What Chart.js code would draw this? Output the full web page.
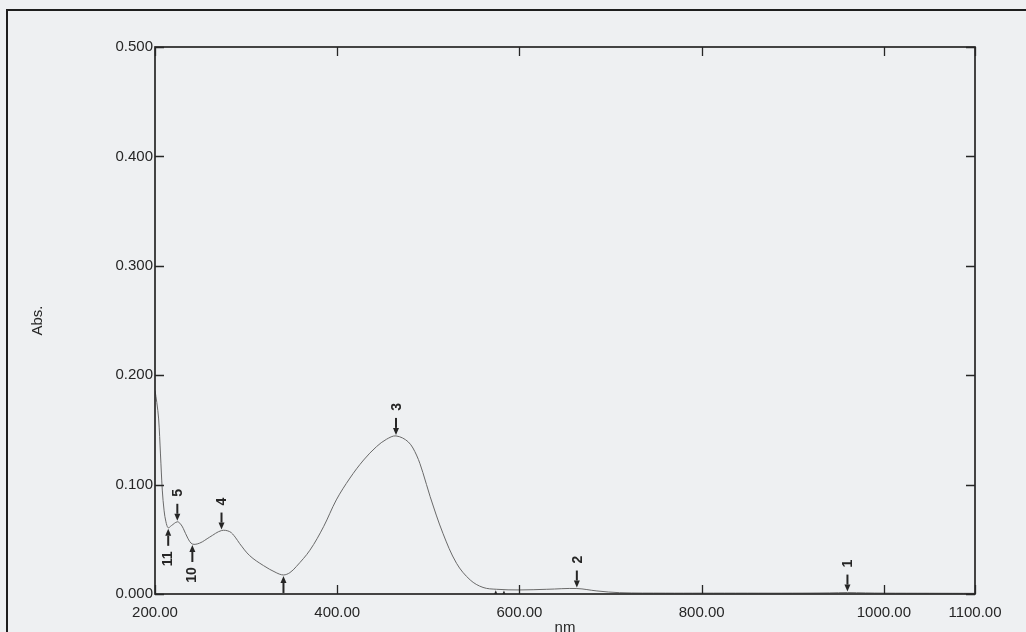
<!DOCTYPE html>
<html>
<head>
<meta charset="utf-8">
<script src="https://cdn.jsdelivr.net/npm/chart.js@4.4.1/dist/chart.umd.min.js"></script>
<style>
  html, body { margin: 0; padding: 0; background: #eef0f2; }
  #wrap { width: 1026px; height: 632px; position: relative; }
</style>
</head>
<body>
<div id="wrap"><canvas id="c" width="1026" height="632"></canvas></div>
<script>
// Absorption spectrum (wavelength in nm, absorbance)
const wavelengths = [200, 202, 204, 206, 208, 210, 212, 214.5, 218, 224.5, 228, 231, 236, 241, 249, 260, 273, 282, 288, 293, 304, 319, 333, 341, 348, 355, 370, 385, 399, 414, 429, 443, 454, 464.5, 478, 487, 494, 502, 516, 531, 546, 560, 575, 600, 630, 663, 685, 710, 760, 800, 850, 900, 940, 960, 980, 1000, 1050, 1100];
const absorbance  = [0.186, 0.175, 0.160, 0.128, 0.095, 0.076, 0.066, 0.0605, 0.0625, 0.066, 0.064, 0.060, 0.051, 0.0457, 0.0465, 0.052, 0.058, 0.057, 0.052, 0.046, 0.035, 0.026, 0.0195, 0.0174, 0.0195, 0.025, 0.040, 0.0615, 0.086, 0.106, 0.1225, 0.1346, 0.1414, 0.1445, 0.139, 0.127, 0.111, 0.089, 0.0555, 0.028, 0.0128, 0.006, 0.0043, 0.0037, 0.0043, 0.0050, 0.0028, 0.0012, 0.0008, 0.0008, 0.0008, 0.0008, 0.0010, 0.0013, 0.0010, 0.0008, 0.0007, 0.0006];

// Axis ticks
const xTicks = [200, 400, 600, 800, 1000, 1100];
const yTicks = [0, 0.1, 0.2, 0.3, 0.4, 0.5];

// Peak picks (arrow from above) and valley picks (arrow from below)
const peakNm     = [960, 663, 464.5, 273, 224.5];
const peakAbs    = [0.0013, 0.0050, 0.1445, 0.058, 0.066];
const peakLabels = ['1', '2', '3', '4', '5'];

const valleyNm     = [214.5, 241, 341, 574, 583];
const valleyAbs    = [0.0605, 0.0457, 0.0174, 0.0043, 0.0041];
const valleyLabels = ['11', '10', '', '', ''];

const INK = '#262626';
const FONT = '"Liberation Sans", Arial, sans-serif';

function arrow(ctx, x, tipY, dir, len) {
  // dir = +1: arrow points down (tail above); -1: points up (tail below)
  const tailY = tipY - dir * len;
  const headLen = 7, headW = 3;
  ctx.beginPath();
  ctx.moveTo(x, tailY);
  ctx.lineTo(x, tipY - dir * headLen);
  ctx.lineWidth = 2;
  ctx.strokeStyle = INK;
  ctx.stroke();
  ctx.beginPath();
  ctx.moveTo(x, tipY);
  ctx.lineTo(x - headW, tipY - dir * headLen);
  ctx.lineTo(x + headW, tipY - dir * headLen);
  ctx.closePath();
  ctx.fillStyle = INK;
  ctx.fill();
}

function vLabel(ctx, text, x, y) {
  ctx.save();
  ctx.translate(x, y);
  ctx.rotate(-Math.PI / 2);
  ctx.font = 'bold 14px ' + FONT;
  ctx.fillStyle = INK;
  ctx.textAlign = 'center';
  ctx.textBaseline = 'middle';
  ctx.fillText(text, 0, 0);
  ctx.restore();
}

const framePlugin = {
  id: 'spectroFrame',
  beforeDraw(chart) {
    const ctx = chart.ctx;
    ctx.save();
    ctx.fillStyle = '#eef0f2';
    ctx.fillRect(0, 0, chart.width, chart.height);
    // page border
    ctx.strokeStyle = '#1e1e1e';
    ctx.lineWidth = 2;
    ctx.strokeRect(7, 10, chart.width + 20, chart.height + 20);
    ctx.restore();
  },
  afterDatasetsDraw(chart) {
    const ctx = chart.ctx;
    const a = chart.chartArea;
    const xs = chart.scales.x, ys = chart.scales.y;
    ctx.save();
    // plot frame
    ctx.strokeStyle = INK;
    ctx.lineWidth = 1.7;
    ctx.strokeRect(a.left, a.top, a.right - a.left, a.bottom - a.top);
    // inner tick marks
    const tl = 9;
    ctx.lineWidth = 1.3;
    ctx.beginPath();
    xTicks.forEach(v => {
      const px = Math.round(xs.getPixelForValue(v)) + 0.5;
      ctx.moveTo(px, a.bottom); ctx.lineTo(px, a.bottom - tl);
      ctx.moveTo(px, a.top); ctx.lineTo(px, a.top + tl);
    });
    yTicks.forEach(v => {
      const py = Math.round(ys.getPixelForValue(v)) + 0.5;
      ctx.moveTo(a.left, py); ctx.lineTo(a.left + tl, py);
      ctx.moveTo(a.right, py); ctx.lineTo(a.right - tl, py);
    });
    ctx.stroke();

    // pick markers
    ctx.save();
    ctx.beginPath();
    ctx.rect(a.left, a.top, a.right - a.left, a.bottom - a.top);
    ctx.clip();
    peakNm.forEach((nm, i) => {
      const x = xs.getPixelForValue(nm);
      const y = ys.getPixelForValue(peakAbs[i]) - 1;
      arrow(ctx, x, y, 1, 17);
    });
    valleyNm.forEach((nm, i) => {
      const x = xs.getPixelForValue(nm);
      const y = ys.getPixelForValue(valleyAbs[i]) + 1;
      arrow(ctx, x, y, -1, 17);
    });
    ctx.restore();
    peakNm.forEach((nm, i) => {
      const x = xs.getPixelForValue(nm);
      const y = ys.getPixelForValue(peakAbs[i]);
      vLabel(ctx, peakLabels[i], x + 1, y - 29);
    });
    valleyNm.forEach((nm, i) => {
      if (!valleyLabels[i]) return;
      const x = xs.getPixelForValue(nm);
      const y = ys.getPixelForValue(valleyAbs[i]);
      vLabel(ctx, valleyLabels[i], x, y + 31);
    });
    ctx.restore();
  }
};

const points = wavelengths.map((w, i) => ({ x: w, y: absorbance[i] }));

new Chart(document.getElementById('c'), {
  type: 'line',
  data: {
    datasets: [{
      data: points,
      borderColor: '#6a6a6a',
      borderWidth: 1,
      pointRadius: 0,
      fill: false,
      tension: 0.35
    }]
  },
  options: {
    responsive: false,
    devicePixelRatio: 1,
    animation: false,
    layout: { padding: { left: 0, top: 47, right: 51, bottom: 0 } },
    plugins: { legend: { display: false }, tooltip: { enabled: false } },
    scales: {
      x: {
        type: 'linear',
        min: 200,
        max: 1100,
        afterBuildTicks(scale) { scale.ticks = xTicks.map(v => ({ value: v })); },
        afterFit(scale) { scale.height = 38; },
        grid: { display: false, drawTicks: false },
        border: { display: false },
        ticks: {
          autoSkip: false,
          maxRotation: 0,
          padding: 10,
          color: '#262626',
          font: { family: FONT, size: 15 },
          callback: v => Number(v).toFixed(2)
        },
        title: {
          display: true,
          text: 'nm',
          color: '#262626',
          font: { family: FONT, size: 15 },
          padding: { top: 0, bottom: -5 }
        }
      },
      y: {
        min: 0,
        max: 0.5,
        afterBuildTicks(scale) { scale.ticks = yTicks.map(v => ({ value: v })); },
        afterFit(scale) { scale.width = 155; },
        grid: { display: false, drawTicks: false },
        border: { display: false },
        ticks: {
          padding: 2,
          color: '#262626',
          font: { family: FONT, size: 15 },
          callback: v => Number(v).toFixed(3)
        },
        title: {
          display: true,
          text: 'Abs.',
          color: '#262626',
          font: { family: FONT, size: 15 },
          padding: { top: 29, bottom: 0 }
        }
      }
    }
  },
  plugins: [framePlugin]
});
</script>
</body>
</html>
